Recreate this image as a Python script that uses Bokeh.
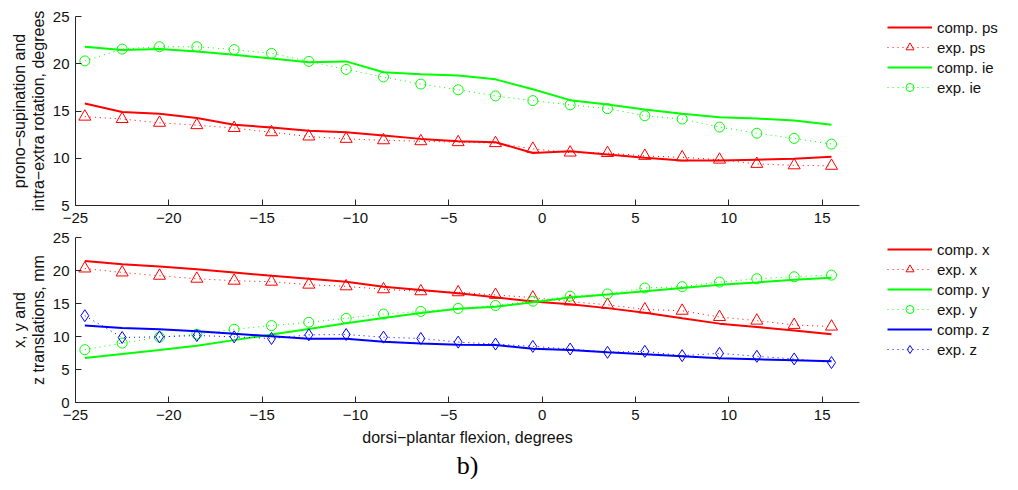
from bokeh.plotting import figure
from bokeh.layouts import column
from bokeh.models import Range1d, FixedTicker, Legend, LegendItem, Title
from bokeh.embed import file_html
from bokeh.resources import INLINE

# ---------------- data ----------------
flexion = [-24.5, -22.5, -20.5, -18.5, -16.5, -14.5, -12.5, -10.5, -8.5, -6.5, -4.5,
           -2.5, -0.5, 1.5, 3.5, 5.5, 7.5, 9.5, 11.5, 13.5, 15.5]

comp_ps = [15.8, 14.9, 14.7, 14.25, 13.55, 13.25, 12.9, 12.75, 12.4, 12.05, 11.8,
           11.7, 10.55, 10.75, 10.4, 10.05, 9.75, 9.75, 9.85, 9.95, 10.15]
exp_ps = [14.4, 14.15, 13.75, 13.5, 13.2, 12.75, 12.3, 12.05, 11.9, 11.8, 11.7,
          11.6, 11.0, 10.6, 10.55, 10.25, 10.1, 9.85, 9.4, 9.25, 9.2]
comp_ie = [21.8, 21.45, 21.55, 21.3, 20.95, 20.55, 20.15, 20.25, 19.1, 18.9, 18.75,
           18.35, 17.3, 16.15, 15.7, 15.15, 14.7, 14.35, 14.2, 14.0, 13.55]
exp_ie = [20.3, 21.55, 21.8, 21.8, 21.5, 21.1, 20.25, 19.4, 18.6, 17.85, 17.25,
          16.6, 16.1, 15.65, 15.25, 14.5, 14.15, 13.3, 12.65, 12.1, 11.5]

comp_x = [21.45, 20.95, 20.6, 20.2, 19.7, 19.2, 18.75, 18.3, 17.55, 17.05, 16.55,
          15.95, 15.3, 14.9, 14.3, 13.6, 12.75, 11.95, 11.45, 10.9, 10.35]
exp_x = [20.3, 19.7, 19.2, 18.75, 18.45, 18.3, 17.85, 17.6, 17.15, 16.85, 16.7,
         16.3, 15.9, 15.3, 14.8, 14.1, 13.9, 12.95, 12.4, 11.75, 11.5]
comp_y = [6.75, 7.35, 7.95, 8.6, 9.45, 10.3, 11.15, 12.0, 12.8, 13.55, 14.2,
          14.5, 15.2, 15.9, 16.35, 16.85, 17.35, 17.85, 18.2, 18.6, 18.9]
exp_y = [8.0, 9.0, 9.9, 10.35, 11.1, 11.65, 12.15, 12.75, 13.4, 13.8, 14.25,
         14.7, 15.35, 16.1, 16.45, 17.35, 17.55, 18.25, 18.75, 19.05, 19.3]
comp_z = [11.65, 11.3, 11.1, 10.8, 10.4, 10.05, 9.65, 9.65, 9.2, 8.95, 8.75,
          8.7, 8.15, 7.95, 7.6, 7.3, 7.0, 6.7, 6.55, 6.4, 6.25]
exp_z = [13.15, 9.85, 9.95, 10.15, 9.95, 9.7, 10.25, 10.3, 9.9, 9.7, 9.15,
         8.85, 8.5, 8.1, 7.6, 7.75, 7.1, 7.45, 7.0, 6.6, 6.05]

x_ticks = [-25, -20, -15, -10, -5, 0, 5, 10, 15]
x_tick_labels = ["\u221225", "\u221220", "\u221215", "\u221210", "\u22125", "0", "5", "10", "15"]
top_y_ticks = [5, 10, 15, 20, 25]
bot_y_ticks = [0, 5, 10, 15, 20, 25]

top_ylabel = "prono\u2212supination and\nintra\u2212extra rotation, degrees"
bot_ylabel = "x, y and\nz translations, mm"
xlabel = "dorsi\u2212plantar flexion, degrees"

RED, GREEN, BLUE = "#FF0000", "#00FF00", "#0000FF"
FONT = "Liberation Sans"
AX = "#262626"


def style(p, yticks):
    p.xgrid.visible = False
    p.ygrid.visible = False
    p.outline_line_color = None
    p.xaxis.ticker = FixedTicker(ticks=x_ticks)
    p.xaxis.major_label_overrides = dict(zip(x_ticks, x_tick_labels))
    p.yaxis.ticker = FixedTicker(ticks=yticks)
    for ax in (p.xaxis, p.yaxis):
        ax.major_tick_in = 6
        ax.major_tick_out = 0
        ax.minor_tick_in = 0
        ax.minor_tick_out = 0
        ax.axis_line_color = AX
        ax.major_tick_line_color = AX
        ax.major_label_text_font = FONT
        ax.major_label_text_font_size = "15px"
        ax.major_label_text_color = "#111111"
        ax.axis_label_text_font = FONT
        ax.axis_label_text_font_size = "16px"
        ax.axis_label_text_font_style = "normal"
        ax.axis_label_text_color = "#111111"
        ax.axis_label_text_line_height = 1.1
    p.xaxis.major_label_standoff = 7
    p.yaxis.major_label_standoff = 6
    p.yaxis.axis_label_standoff = 3


def add_series(p, series):
    items = []
    for label, ys, color, kind, marker, size in series:
        if kind == "comp":
            r = p.line(flexion, ys, line_color=color, line_width=2)
            items.append(LegendItem(label=label, renderers=[r]))
        else:
            r1 = p.line(flexion, ys, line_color=color, line_width=1, line_dash="1 4")
            r2 = p.scatter(flexion, ys, marker=marker, size=size, line_color=color,
                           fill_color=None, line_width=1)
            items.append(LegendItem(label=label, renderers=[r1, r2]))
    return items


def make_legend(items, loc):
    lg = Legend(items=items, location=loc)
    lg.padding = 0
    lg.margin = 0
    lg.spacing = 0
    lg.glyph_width = 45
    lg.glyph_height = 20
    lg.label_height = 20
    lg.label_standoff = 5
    lg.label_text_font = FONT
    lg.label_text_font_size = "15px"
    lg.label_text_color = "#111111"
    lg.border_line_color = None
    lg.background_fill_alpha = 0
    return lg


# ---------------- top panel ----------------
p1 = figure(frame_width=784, frame_height=189, output_backend="svg", toolbar_location=None,
            x_range=Range1d(-25, 17), y_range=Range1d(5, 25),
            min_border_left=75, min_border_right=151, min_border_top=16, min_border_bottom=24)
style(p1, top_y_ticks)
p1.yaxis.axis_label = top_ylabel
items1 = add_series(p1, [
    ("comp. ps", comp_ps, RED, "comp", None, 0),
    ("exp. ps", exp_ps, RED, "exp", "triangle", 12),
    ("comp. ie", comp_ie, GREEN, "comp", None, 0),
    ("exp. ie", exp_ie, GREEN, "exp", "circle", 10),
])
p1.add_layout(make_legend(items1, (28, 108)), "right")

# ---------------- bottom panel ----------------
p2 = figure(frame_width=784, frame_height=165, output_backend="svg", toolbar_location=None,
            x_range=Range1d(-25, 17), y_range=Range1d(0, 25),
            min_border_left=75, min_border_right=151, min_border_top=8, min_border_bottom=20)
style(p2, bot_y_ticks)
p2.yaxis.axis_label = bot_ylabel
p2.xaxis.axis_label = xlabel
p2.xaxis.axis_label_standoff = 6
items2 = add_series(p2, [
    ("comp. x", comp_x, RED, "comp", None, 0),
    ("exp. x", exp_x, RED, "exp", "triangle", 12),
    ("comp. y", comp_y, GREEN, "comp", None, 0),
    ("exp. y", exp_y, GREEN, "exp", "circle", 10),
    ("comp. z", comp_z, BLUE, "comp", None, 0),
    ("exp. z", exp_z, BLUE, "exp", "diamond", 12),
])
p2.add_layout(make_legend(items2, (28, 43)), "right")
p2.add_layout(Title(text="b)", align="center", offset=9, text_font="Liberation Serif",
                    text_font_size="26px", text_font_style="normal", text_color="#000000",
                    standoff=0), "below")

layout = column(p1, p2, spacing=0)
open("out.html", "w").write(file_html(layout, INLINE))
